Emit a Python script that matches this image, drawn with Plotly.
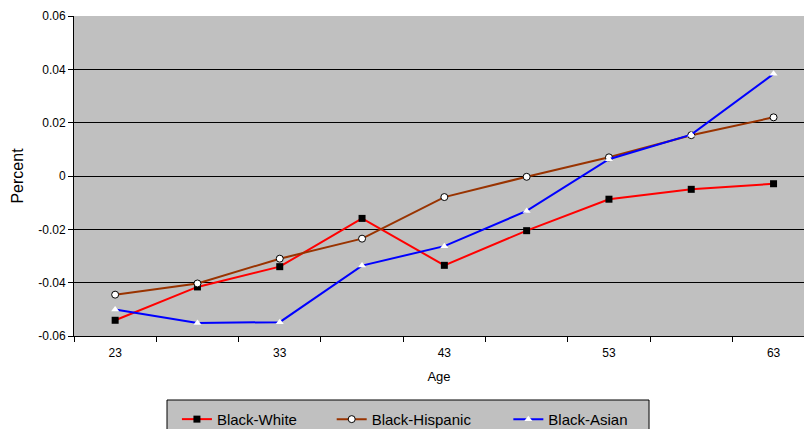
import plotly.graph_objs as go

ages = [23, 28, 33, 38, 43, 48, 53, 58, 63]
black_white = [-0.0541, -0.0416, -0.0340, -0.0159, -0.0335, -0.0205, -0.0087, -0.0050, -0.0029]
black_hispanic = [-0.0445, -0.0403, -0.0310, -0.0235, -0.0079, -0.0003, 0.0070, 0.0153, 0.0220]
black_asian = [-0.0501, -0.0551, -0.0548, -0.0336, -0.0263, -0.0131, 0.0063, 0.0155, 0.0383]

x_tick_vals = [23, 33, 43, 53, 63]
y_tick_vals = [-0.06, -0.04, -0.02, 0, 0.02, 0.04, 0.06]
y_tick_text = ['-0.06', '-0.04', '-0.02', '0', '0.02', '0.04', '0.06']

font = 'Liberation Sans, Arial, sans-serif'

data = [
    go.Scatter(x=ages, y=black_white, name='Black-White', mode='lines+markers',
               line=dict(color='#FF0000', width=2), legend='legend',
               marker=dict(symbol='square', size=7, color='black')),
    go.Scatter(x=ages, y=black_hispanic, name='Black-Hispanic', mode='lines+markers',
               line=dict(color='#993300', width=2), legend='legend2',
               marker=dict(symbol='circle', size=7, color='white', line=dict(color='black', width=1))),
    go.Scatter(x=ages, y=black_asian, name='Black-Asian', mode='lines+markers',
               line=dict(color='#0000FF', width=2), legend='legend3',
               marker=dict(symbol='triangle-up', size=7, color='white')),
]

# ticks sit between the categories, labels on every other one
boundaries = [a - 2.5 for a in ages] + [ages[-1] + 2.5]

# one legend per entry so the spacing follows the text lengths, boxed by a shape
leg = dict(orientation='h', y=-0.209, yanchor='top', xanchor='left',
           bgcolor='rgba(0,0,0,0)', borderwidth=0, font=dict(size=15), itemwidth=30)

# page body keeps an 8px margin all round, so the figure is sized to fit inside it
layout = go.Layout(
    width=796, height=421,
    margin=dict(l=66, r=0, t=8, b=93, autoexpand=False),
    paper_bgcolor='white', plot_bgcolor='#C0C0C0',
    font=dict(family=font, color='black', size=12),
    showlegend=True,
    legend=dict(leg, x=0.141),
    legend2=dict(leg, x=0.353),
    legend3=dict(leg, x=0.595),
    shapes=[dict(type='rect', xref='paper', yref='paper', x0=0.1274, x1=0.7877,
                 y0=-0.2, y1=-0.4, fillcolor='#C0C0C0', line=dict(color='black', width=1),
                 layer='below')],
    xaxis=dict(range=[20.5, 64.85], tickvals=x_tick_vals, ticks='', showgrid=False,
               zeroline=False, showline=True, linecolor='black', linewidth=1,
               tickfont=dict(size=12), ticklabelstandoff=6,
               minor=dict(tickvals=boundaries, ticks='outside', ticklen=5,
                          tickcolor='black', showgrid=False),
               title=dict(text='Age', font=dict(size=13), standoff=12)),
    yaxis=dict(range=[-0.06, 0.06], tickvals=y_tick_vals, ticktext=y_tick_text,
               ticks='outside', ticklen=5, tickcolor='black',
               showgrid=True, gridcolor='black', gridwidth=1,
               zeroline=False, showline=True, linecolor='black', linewidth=1,
               tickfont=dict(size=12),
               title=dict(text='Percent', font=dict(size=16), standoff=10)),
)

fig = go.Figure(data=data, layout=layout)
fig.write_html('out.html')
